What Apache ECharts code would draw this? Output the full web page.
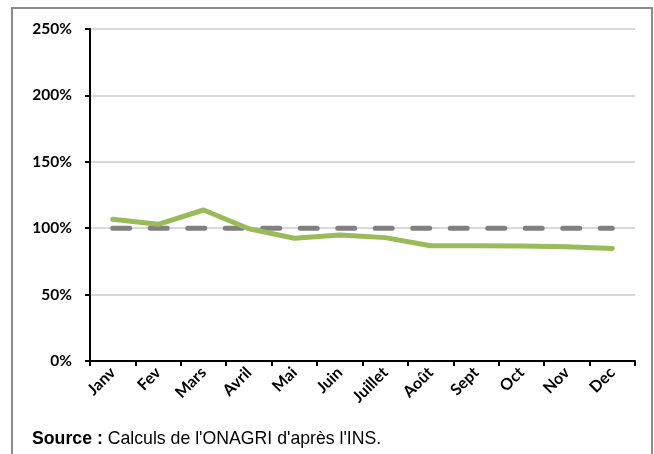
<!DOCTYPE html>
<html>
<head>
<meta charset="utf-8">
<script src="https://cdn.jsdelivr.net/npm/echarts@6/dist/echarts.min.js"></script>
<style>
  html, body { margin: 0; padding: 0; background: #fff; }
  #chart { width: 654px; height: 454px; }
</style>
</head>
<body>
<div id="chart"></div>
<script>
const months = ['Janv', 'Fev', 'Mars', 'Avril', 'Mai', 'Juin', 'Juillet', 'Août', 'Sept', 'Oct', 'Nov', 'Dec']
const ratio = [106.7, 102.9, 113.7, 99.6, 92.4, 94.9, 92.9, 86.8, 86.8, 86.6, 86.1, 84.8]
const reference = [100, 100, 100, 100, 100, 100, 100, 100, 100, 100, 100, 100]

const chart = echarts.init(document.getElementById('chart'))

const option = {
  animation: false,
  grid: { left: 90, right: 19, top: 29, bottom: 93 },
  graphic: [
    {
      type: 'rect',
      shape: { x: 12, y: 8, width: 640, height: 460 },
      style: { fill: 'none', stroke: '#8c8c8c', lineWidth: 2 },
      silent: true
    },
    {
      type: 'text',
      left: 32,
      top: 430,
      style: {
        text: '{b|Source :} Calculs de l\'ONAGRI d\'après l\'INS.',
        font: '17.7px "Liberation Sans", Arial, sans-serif',
        fill: '#000',
        rich: {
          b: { fontWeight: 'bold', fontSize: 17.7, fontFamily: '"Liberation Sans", Arial, sans-serif' }
        }
      }
    }
  ],
  xAxis: {
    type: 'category',
    data: months,
    boundaryGap: true,
    axisLine: { lineStyle: { color: '#000', width: 2 } },
    axisTick: { show: true, length: 5, lineStyle: { color: '#000', width: 2 } },
    axisLabel: {
      rotate: 45,
      margin: 9,
      color: '#000',
      fontFamily: 'Lato, sans-serif',
      fontWeight: 'bold',
      fontSize: 16,
      interval: 0
    }
  },
  yAxis: {
    type: 'value',
    min: 0,
    max: 250,
    interval: 50,
    axisLine: { show: true, lineStyle: { color: '#000', width: 2 } },
    axisTick: { show: true, length: 5, lineStyle: { color: '#000', width: 2 } },
    splitLine: { lineStyle: { color: '#d9d9d9', width: 2 } },
    axisLabel: {
      formatter: '{value}%',
      margin: 18,
      color: '#000',
      fontFamily: 'Lato, sans-serif',
      fontWeight: 'bold',
      fontSize: 15.5
    }
  },
  series: [
    {
      name: 'Référence',
      type: 'line',
      data: reference,
      symbol: 'none',
      lineStyle: { color: '#808080', width: 5, type: [17, 20.5], cap: 'round' },
      z: 2
    },
    {
      name: 'Ratio',
      type: 'line',
      data: ratio,
      symbol: 'none',
      lineStyle: { color: '#9bbb59', width: 5, cap: 'round', join: 'round' },
      z: 3
    }
  ]
}

chart.setOption(option)
</script>
</body>
</html>
